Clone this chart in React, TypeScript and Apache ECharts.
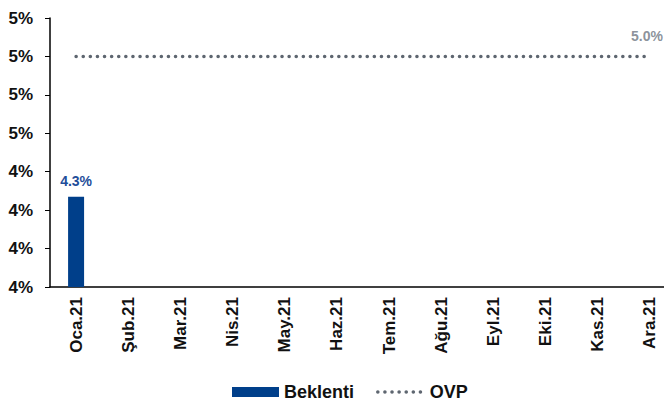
import React, { useEffect, useRef } from "react";
import * as echarts from "echarts";

const categories = ["Oca.21", "Şub.21", "Mar.21", "Nis.21", "May.21", "Haz.21", "Tem.21", "Ağu.21", "Eyl.21", "Eki.21", "Kas.21", "Ara.21"];
const beklenti: (number | null)[] = [4.27, null, null, null, null, null, null, null, null, null, null, null];
const ovp: number[] = [5.0, 5.0, 5.0, 5.0, 5.0, 5.0, 5.0, 5.0, 5.0, 5.0, 5.0, 5.0];

export default function App() {
  const ref = useRef<HTMLDivElement>(null);
  useEffect(() => {
    if (!ref.current) return;
    const chart = echarts.init(ref.current, null, { renderer: "svg" });
    const font = "Liberation Sans";
    const gray = "#5E6670";
    const dotted = { color: gray, width: 3.5, type: [0.1, 7], cap: "round" };
    chart.setOption({
      animation: false,
      textStyle: { fontFamily: font },
      grid: {
        left: 50,
        width: 626,
        top: 18,
        height: 269,
        containLabel: false,
        outerBoundsMode: "none",
      },
      legend: {
        top: 378,
        left: 227,
        itemWidth: 47,
        itemHeight: 10,
        itemGap: 22,
        textStyle: { fontFamily: font, fontWeight: "bold", fontSize: 18, color: "#111" },
        data: [
          { name: "Beklenti", icon: "rect" },
          { name: "OVP", itemStyle: { opacity: 0 }, lineStyle: dotted },
        ],
      },
      xAxis: {
        type: "category",
        data: categories,
        axisLine: { lineStyle: { color: "#000", width: 1.5 } },
        axisTick: { lineStyle: { color: "#000" }, length: 5 },
        axisLabel: {
          rotate: 90,
          fontFamily: font,
          fontWeight: "bold",
          fontSize: 17,
          color: "#111",
          margin: 10,
          interval: 0,
        },
      },
      yAxis: {
        type: "value",
        min: 3.8,
        max: 5.2,
        interval: 0.2,
        splitLine: { show: false },
        axisLine: { show: true, lineStyle: { color: "#000", width: 1.5 } },
        axisTick: { show: true, lineStyle: { color: "#000" }, length: 5 },
        axisLabel: {
          fontFamily: font,
          fontWeight: "bold",
          fontSize: 17,
          color: "#111",
          margin: 17,
          formatter: (v: number) => Math.round(v) + "%",
        },
      },
      series: [
        {
          name: "Beklenti",
          type: "bar",
          data: beklenti,
          barWidth: 16,
          itemStyle: { color: "#003F8A" },
          label: {
            show: true,
            position: "top",
            distance: 9,
            fontFamily: font,
            fontWeight: "bold",
            fontSize: 14,
            color: "#1F4E9A",
            formatter: (p: any) => p.value.toFixed(1) + "%",
          },
        },
        {
          name: "OVP",
          type: "line",
          data: ovp,
          symbol: "none",
          lineStyle: dotted,
          itemStyle: { color: gray },
          label: { show: false },
        },
        {
          name: "OVP-label",
          type: "scatter",
          data: ovp.map((v, i) => (i === ovp.length - 1 ? v : null)),
          symbolSize: 0,
          silent: true,
          label: {
            show: true,
            position: "top",
            distance: 13,
            offset: [-3, 0],
            fontFamily: font,
            fontWeight: "bold",
            fontSize: 14,
            color: "#6E7681",
            formatter: (p: any) => p.value.toFixed(1) + "%",
          },
        },
      ],
    });
    return () => chart.dispose();
  }, []);
  return <div ref={ref} style={{ width: 664, height: 403, position: "absolute", left: 0, top: 0 }} />;
}
